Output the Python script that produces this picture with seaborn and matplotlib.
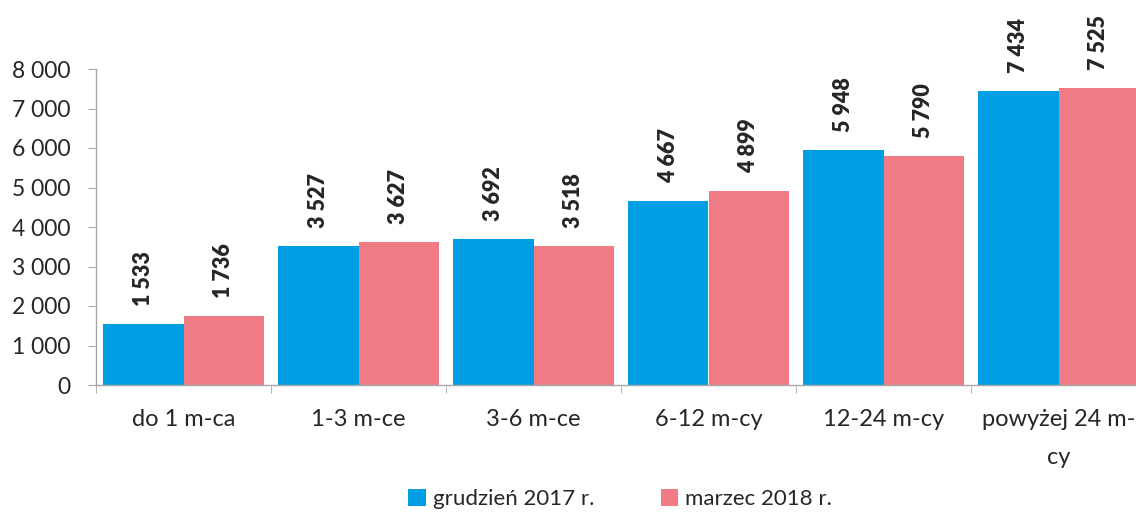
import pandas as pd
import seaborn as sns
import matplotlib.pyplot as plt
import numpy as np
from matplotlib.ticker import FuncFormatter, FixedLocator

# data
categories = ['do 1 m-ca', '1-3 m-ce', '3-6 m-ce', '6-12 m-cy', '12-24 m-cy', 'powyżej 24 m-\ncy']
series_names = ['grudzień 2017 r.', 'marzec 2018 r.']
dec_2017 = [1533, 3527, 3692, 4667, 5948, 7434]
mar_2018 = [1736, 3627, 3518, 4899, 5790, 7525]
colors = ['#009FE3', '#F07B85']

df = pd.DataFrame({
    'kategoria': categories * 2,
    'okres': [series_names[0]] * 6 + [series_names[1]] * 6,
    'wartosc': dec_2017 + mar_2018,
})

def fmt(v, pos=None):
    return '{:,.0f}'.format(v).replace(',', ' ')

sns.set_style('white')
plt.rcParams['font.family'] = ['Lato', 'DejaVu Sans']

fig = plt.figure(figsize=(11.36, 5.15), dpi=100)
ax = fig.add_axes([96 / 1136, 1 - 385 / 515, 1050 / 1136, 316 / 515])

sns.barplot(data=df, x='kategoria', y='wartosc', hue='okres', palette=colors,
            width=0.915, saturation=1, linewidth=0, ax=ax, legend=True)

ax.set_ylim(0, 8000)
ax.set_xlim(-0.5, len(categories) - 0.5)
ax.yaxis.set_major_locator(FixedLocator(np.arange(0, 8001, 1000)))
ax.yaxis.set_major_formatter(FuncFormatter(fmt))
ax.set_xlabel('')
ax.set_ylabel('')

for side in ['top', 'right']:
    ax.spines[side].set_visible(False)
for side in ['left', 'bottom']:
    ax.spines[side].set_color('#A6A6A6')
    ax.spines[side].set_linewidth(1)

ax.tick_params(axis='y', which='major', direction='out', length=6, color='#A6A6A6',
               labelsize=16.5, pad=12, left=True)
ax.tick_params(axis='x', which='major', length=0, labelsize=17, pad=17)
for lbl in ax.get_xticklabels():
    lbl.set_linespacing(2.0)
    lbl.set_verticalalignment('top')
ax.set_xticks(np.arange(-0.5, len(categories) + 0.5, 1), minor=True)
ax.tick_params(axis='x', which='minor', direction='out', length=6, color='#A6A6A6', bottom=True)

# rotated value labels above the bars
for cont in ax.containers:
    ax.bar_label(cont, labels=[fmt(v) for v in cont.datavalues], rotation=90,
                 padding=13, fontsize=15.5, fontweight='heavy')

handles, labels = ax.get_legend_handles_labels()
ax.get_legend().remove()
fig.legend(handles, labels, loc='center', bbox_to_anchor=(620 / 1136, 1 - 499 / 515), ncol=2,
           frameon=False, fontsize=16, handlelength=0.8, handleheight=0.8,
           handletextpad=0.3, columnspacing=3.0, borderpad=0)

plt.savefig('out.png', dpi=100)
